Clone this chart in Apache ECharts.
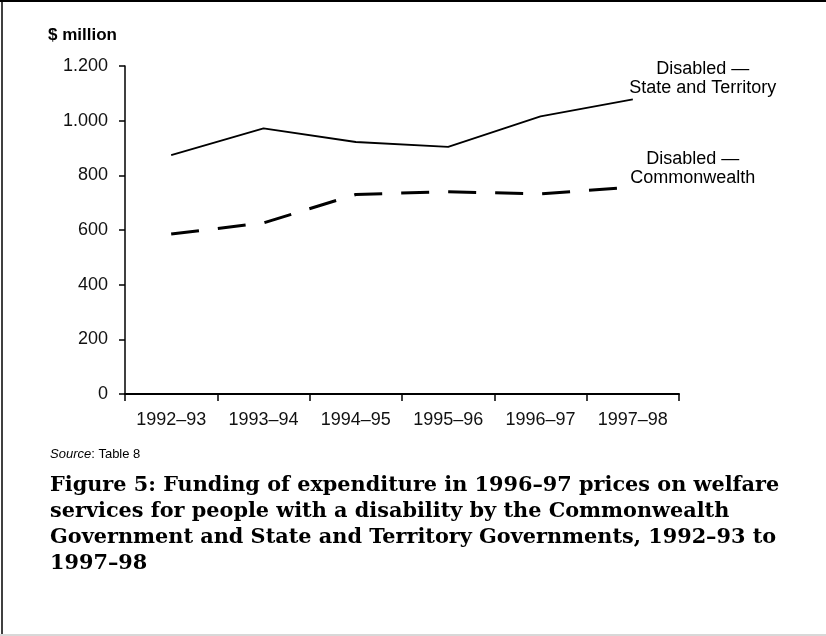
<!DOCTYPE html>
<html>
<head>
    <meta charset="utf-8">
    <title>Figure 5</title>
    <script src="https://cdn.jsdelivr.net/npm/echarts@6/dist/echarts.min.js"></script>
    <style>
        html, body {
            margin: 0;
            padding: 0;
            background: #ffffff;
        }

        #chart {
            width: 826px;
            height: 636px;
        }
    </style>
</head>
<body>
<div id="chart"></div>
<script>
    // data
    var years = ['1992\u201393', '1993\u201394', '1994\u201395', '1995\u201396', '1996\u201397', '1997\u201398'];
    var stateTerritory = [874, 972, 922, 904, 1016, 1078];
    var commonwealth = [585, 626, 730, 740, 732, 757];
    var yTickLabels = ['0', '200', '400', '600', '800', '1.000', '1.200'];
    var captionLines = [
        'Figure 5: Funding of expenditure in 1996\u201397 prices on welfare',
        'services for people with a disability by the Commonwealth',
        'Government and State and Territory Governments, 1992\u201393 to',
        '1997\u201398'
    ];

    var sans = '"Liberation Sans", Arial, sans-serif';
    var serif = '"DejaVu Serif", "Liberation Serif", serif';

    // caption font size: first line should be about 728px wide, like the original
    var ctx = document.createElement('canvas').getContext('2d');
    ctx.font = 'bold 20px ' + serif;
    var captionSize = Math.min(21, 20 * 728 / ctx.measureText(captionLines[0]).width);

    // put a two-line label on the last point of a series
    function withEndLabel(values, text, offset) {
        return values.map(function (v, i) {
            if (i !== values.length - 1) {
                return v;
            }
            return {
                value: v,
                label: {
                    show: true,
                    position: 'top',
                    distance: 1,
                    offset: offset,
                    formatter: text,
                    align: 'center',
                    color: '#000',
                    fontFamily: sans,
                    fontSize: 18,
                    lineHeight: 19
                }
            };
        });
    }

    var chart = echarts.init(document.getElementById('chart'), null, {renderer: 'canvas'});

    var caption = captionLines.map(function (line, i) {
        return {
            type: 'text',
            left: 50,
            top: 475 + i * 26,
            style: {
                text: line,
                fill: '#000',
                font: 'bold ' + captionSize.toFixed(1) + 'px ' + serif
            }
        };
    });

    var option = {
        backgroundColor: '#ffffff',
        animation: false,
        grid: {
            left: 125,
            right: 147,
            top: 66,
            bottom: 242
        },
        xAxis: {
            type: 'category',
            data: years,
            boundaryGap: true,
            axisLine: {lineStyle: {color: '#000', width: 2}},
            axisTick: {show: true, length: 7, lineStyle: {color: '#000', width: 1.5}},
            axisLabel: {
                color: '#111',
                fontFamily: sans,
                fontSize: 18,
                margin: 17
            }
        },
        yAxis: {
            type: 'value',
            min: 0,
            max: 1200,
            interval: 200,
            splitLine: {show: false},
            axisLine: {show: true, lineStyle: {color: '#000', width: 1.5}},
            axisTick: {show: true, length: 6, lineStyle: {color: '#000', width: 1.5}},
            axisLabel: {
                color: '#111',
                fontFamily: sans,
                fontSize: 18,
                margin: 17,
                formatter: function (v) {
                    return yTickLabels[Math.round(v / 200)];
                }
            }
        },
        series: [
            {
                name: 'Disabled \u2014 State and Territory',
                type: 'line',
                data: withEndLabel(stateTerritory, 'Disabled \u2014\nState and Territory', [70, -1]),
                symbol: 'circle',
                symbolSize: 0,
                showSymbol: true,
                lineStyle: {color: '#000', width: 1.8, type: 'solid'},
                itemStyle: {color: '#000'}
            },
            {
                name: 'Disabled \u2014 Commonwealth',
                type: 'line',
                data: withEndLabel(commonwealth, 'Disabled \u2014\nCommonwealth', [60, 1]),
                symbol: 'circle',
                symbolSize: 0,
                showSymbol: true,
                lineStyle: {color: '#000', width: 3, type: [28, 19]},
                itemStyle: {color: '#000'}
            }
        ],
        graphic: [
            // frame around the figure
            {type: 'line', shape: {x1: 0, y1: 1, x2: 826, y2: 1}, style: {stroke: '#000', lineWidth: 2}},
            {type: 'line', shape: {x1: 2, y1: 0, x2: 2, y2: 634}, style: {stroke: '#000', lineWidth: 1.5}},
            {type: 'line', shape: {x1: 0, y1: 635, x2: 826, y2: 635}, style: {stroke: '#d8d8d8', lineWidth: 2}},
            {
                type: 'text',
                left: 48,
                top: 27,
                style: {text: '$ million', fill: '#000', font: 'bold 17px ' + sans}
            },
            {
                type: 'text',
                left: 50,
                top: 448,
                style: {
                    text: '{i|Source}: Table 8',
                    fill: '#000',
                    font: '13px ' + sans,
                    rich: {
                        i: {fontStyle: 'italic', fontSize: 13, fontFamily: sans, fill: '#000'}
                    }
                }
            }
        ].concat(caption)
    };

    chart.setOption(option);
</script>
</body>
</html>
